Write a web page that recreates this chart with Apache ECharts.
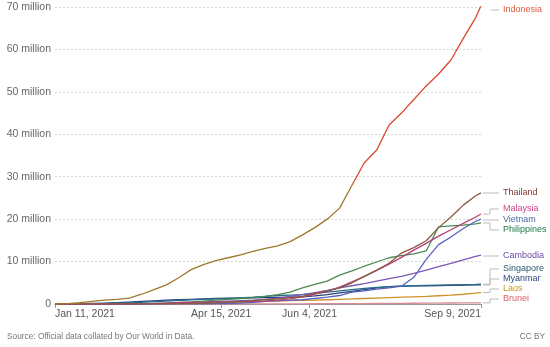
<!DOCTYPE html>
<html><head><meta charset="utf-8">
<script src="https://cdn.jsdelivr.net/npm/echarts@6/dist/echarts.min.js"></script>
<style>html,body{margin:0;padding:0;background:#fff}#c{width:550px;height:347px}</style>
</head><body><div id="c"></div>
<script>
// ---- data (millions of people vaccinated) ----
const dates = ['2021-01-11','2021-01-18','2021-01-25','2021-02-01','2021-02-08','2021-02-15','2021-02-22','2021-03-01','2021-03-08','2021-03-15','2021-03-22','2021-03-29','2021-04-05','2021-04-12','2021-04-19','2021-04-26','2021-05-03','2021-05-10','2021-05-17','2021-05-24','2021-05-31','2021-06-07','2021-06-14','2021-06-21','2021-06-28','2021-07-05','2021-07-12','2021-07-19','2021-07-26','2021-08-02','2021-08-09','2021-08-16','2021-08-23','2021-08-30','2021-09-06','2021-09-09'];
const indonesia   = [0,0.1,0.3,0.6,0.9,1.1,1.4,2.3,3.4,4.5,6.2,8.1,9.3,10.2,10.9,11.6,12.4,13.1,13.7,14.7,16.3,18.0,20.0,22.6,28.0,33.3,36.3,42.2,45.0,48.2,51.4,54.2,57.5,62.6,67.5,70.3];
const thailand    = [0,0,0,0,0,0,0,0.01,0.03,0.05,0.08,0.12,0.2,0.3,0.45,0.6,0.8,1.0,1.2,1.5,1.8,2.5,3.1,3.8,5.0,6.5,8.0,9.6,12.0,13.3,14.9,18.0,20.5,23.3,25.5,26.2];
const malaysia    = [0,0,0,0,0,0,0,0.02,0.1,0.2,0.3,0.35,0.4,0.45,0.5,0.55,0.6,0.7,0.9,1.2,1.7,2.3,3.0,4.0,5.2,6.5,7.9,9.4,11.0,12.7,14.3,16.0,17.5,19.0,20.5,21.2];
const vietnam     = [0,0,0,0,0,0,0,0,0.01,0.02,0.03,0.05,0.06,0.07,0.08,0.2,0.4,0.6,0.8,0.9,1.0,1.3,1.6,2.0,2.8,3.1,3.5,3.8,4.2,6.3,10.5,14.0,15.8,17.8,19.5,20.0];
const philippines = [0,0,0,0,0,0,0,0.01,0.1,0.2,0.35,0.5,0.7,0.9,1.1,1.3,1.5,1.8,2.2,2.8,3.8,4.6,5.4,6.8,7.8,8.9,9.9,10.9,11.4,11.8,12.5,18.2,18.4,18.6,18.9,19.1];
const cambodia    = [0,0,0,0,0,0.02,0.05,0.1,0.15,0.2,0.3,0.4,0.5,0.6,0.7,0.8,0.9,1.1,1.4,1.8,2.2,2.7,3.2,3.8,4.3,4.8,5.4,6.0,6.5,7.2,8.0,8.8,9.6,10.4,11.2,11.5];
const singapore   = [0.03,0.05,0.1,0.15,0.2,0.25,0.3,0.4,0.55,0.7,0.85,1.0,1.1,1.2,1.3,1.45,1.6,1.8,2.0,2.1,2.2,2.5,2.8,3.1,3.4,3.7,3.9,4.05,4.2,4.3,4.4,4.45,4.5,4.55,4.6,4.65];
const myanmar     = [0,0,0,0.05,0.15,0.3,0.45,0.6,0.75,0.9,1.0,1.1,1.2,1.3,1.35,1.4,1.45,1.5,1.55,1.6,1.7,1.9,2.2,2.6,3.0,3.4,3.8,4.1,4.2,4.25,4.3,4.35,4.4,4.45,4.5,4.5];
const laos        = [0,0,0,0,0,0,0,0.01,0.03,0.05,0.08,0.1,0.15,0.2,0.3,0.4,0.5,0.6,0.7,0.8,0.85,0.9,1.0,1.1,1.2,1.3,1.4,1.5,1.6,1.7,1.8,1.95,2.1,2.3,2.55,2.7];
const brunei      = [0,0,0,0,0,0,0,0,0,0,0,0,0.01,0.02,0.02,0.03,0.03,0.04,0.04,0.05,0.05,0.06,0.07,0.08,0.09,0.1,0.12,0.14,0.16,0.18,0.2,0.22,0.24,0.25,0.26,0.27];
const countryNames = ['Indonesia','Thailand','Malaysia','Vietnam','Philippines','Cambodia','Singapore','Myanmar','Laos','Brunei'];
const countryValues = [indonesia, thailand, malaysia, vietnam, philippines, cambodia, singapore, myanmar, laos, brunei];
const yTicks = [0,10,20,30,40,50,60,70];
const xLabelDates = ['2021-01-11','2021-04-15','2021-06-04','2021-09-09'];

// ---- styles ----
const lineColors  = ['#d8472b','#8a5a40','#b8407a','#5a62c0','#4a8a50','#7a58b8','#2a6a8a','#23407a','#d0902a','#d88a96'];
const labelColors = ['#e0563a','#7b3a2a','#d0428a','#4a6aa0','#1f7a4a','#6a4aa8','#2a5a70','#2a4a80','#c89a20','#e05a6a'];
const labelY = [10,193,209,220,230,256,269,279,289,299];
const FONT = '"Liberation Sans", Arial, sans-serif';

const DAY = 86400000;
function ts(s){ const p=s.split('-').map(Number); return Date.UTC(p[0],p[1]-1,p[2]); }
const T0 = ts(dates[0]);
function dayOf(s){ return Math.round((ts(s)-T0)/DAY); }
const MONTHS=['Jan','Feb','Mar','Apr','May','Jun','Jul','Aug','Sep','Oct','Nov','Dec'];
function fmtDay(v){ const d=new Date(T0+Math.round(v)*DAY); return MONTHS[d.getUTCMonth()]+' '+d.getUTCDate()+', '+d.getUTCFullYear(); }
const xDays = dates.map(dayOf);
const xLabelDays = xLabelDates.map(dayOf);

// Indonesia: olive below ~29M, red above (gradient within line bounding box)
const indoMax = Math.max(...indonesia);
const cut = (indoMax - 29) / indoMax;
const indoColor = new echarts.graphic.LinearGradient(0,0,0,1,[
  {offset:0,color:'#d8472b'},{offset:cut-0.01,color:'#d8472b'},
  {offset:cut+0.02,color:'#9c7a2c'},{offset:1,color:'#9c7a2c'}]);

const chart = echarts.init(document.getElementById('c'), null, {renderer:'canvas'});
const series = countryNames.map((n,i)=>({
  name:n, type:'line', showSymbol:false, symbol:'none', animation:false,
  z: 2 + (countryNames.length - i),
  lineStyle:{width:1.3, color: i===0 ? indoColor : lineColors[i]},
  itemStyle:{color:lineColors[i]},
  data: xDays.map((d,k)=>[d, countryValues[i][k]])
}));

chart.setOption({
  animation:false,
  backgroundColor:'#fff',
  textStyle:{fontFamily:FONT},
  grid:{left:55,right:69,top:7,bottom:43,containLabel:false},
  xAxis:{type:'value',min:xDays[0],max:xDays[xDays.length-1],
    axisLine:{show:true,onZero:false,lineStyle:{color:'#999',width:1}},
    axisTick:{show:true,length:4,lineStyle:{color:'#999'},customValues:xLabelDays},
    splitLine:{show:false},
    axisLabel:{customValues:xLabelDays,formatter:fmtDay,color:'#555',fontSize:10.5,fontFamily:FONT,margin:5,
      alignMinLabel:'left',alignMaxLabel:'right',showMinLabel:true,showMaxLabel:true}
  },
  yAxis:{type:'value',min:0,max:70,interval:10,
    axisLine:{show:false},axisTick:{show:false},
    splitLine:{show:true,lineStyle:{color:'#d6d6d6',type:[2,2],width:1}},
    axisLabel:{color:'#666',fontSize:10.5,fontFamily:FONT,margin:4,formatter:v=>v===0?'0':v+' million'}
  },
  series:series
});

// end labels with connectors
const g=[];
countryNames.forEach((n,i)=>{
  const vals=countryValues[i];
  const p=chart.convertToPixel({gridIndex:0},[xDays[xDays.length-1],vals[vals.length-1]]);
  const ex=p[0]+(i===0?10:2), ey=p[1], ly=labelY[i], lx=503;
  let pts;
  if(i===0 || Math.abs(ey-ly)<2){ pts=[[ex,ly],[lx-4,ly]]; }
  else { const bx=490; pts=[[ex,ey],[bx,ey],[bx,ly],[lx-4,ly]]; }
  g.push({type:'polyline',silent:true,shape:{points:pts},style:{stroke:'#bbb',lineWidth:1,fill:null},z:50});
  g.push({type:'text',silent:true,x:lx,y:ly,style:{text:n,fill:labelColors[i],font:'9px '+FONT,verticalAlign:'middle',align:'left'},z:50});
});
g.push({type:'text',silent:true,x:7,y:337,style:{text:'Source: Official data collated by Our World in Data.',fill:'#777',font:'8.3px '+FONT,verticalAlign:'middle'}});
g.push({type:'text',silent:true,x:545,y:337,style:{text:'CC BY',fill:'#777',font:'8.3px '+FONT,verticalAlign:'middle',align:'right'}});
chart.setOption({graphic:g});
</script></body></html>
